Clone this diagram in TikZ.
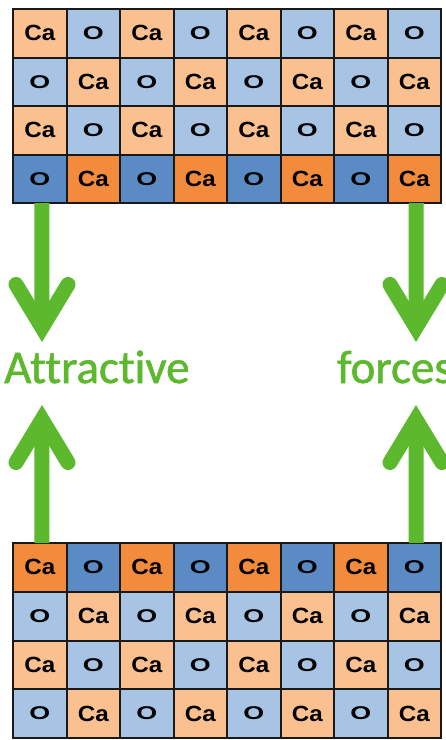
\documentclass[tikz,border=0pt]{standalone}
\usepackage{graphicx}
\usepackage{fontspec}
\setmainfont{Liberation Sans}
\newfontfamily\greenfont{Carlito}[Ligatures=NoCommon, FakeBold=1.2]
\definecolor{colLO}{HTML}{FAC090}
\definecolor{colLB}{HTML}{A7C4E4}
\definecolor{colDO}{HTML}{F28C3C}
\definecolor{colDB}{HTML}{5B8BC5}
\definecolor{grn}{HTML}{5CB82C}
\newcommand{\calabel}{\scalebox{1.1}[1]{Ca}}
\newcommand{\olabel}{\scalebox{1.22}[0.84]{O}}
\begin{document}
\begin{tikzpicture}[x=1pt,y=-1pt,
  cell/.style={draw=black!90, line width=2pt, minimum width=53.5pt, minimum height=48.5pt, inner sep=0pt, outer sep=0pt, font=\bfseries\fontsize{22}{22}\selectfont},
  shaft/.style={draw=grn, line width=15pt},
  chev/.style={draw=grn, line width=15pt, line cap=round, line join=miter},
  word/.style={anchor=base west, inner sep=0pt, text=grn, font=\greenfont\fontsize{47}{47}\selectfont}]
\useasboundingbox (0,0) rectangle (446,740);
\clip (0,0) rectangle (446,740);
\fill[white] (0,0) rectangle (446,740);
% top grid
\foreach \r in {0,...,3}{
  \foreach \c in {0,...,7}{
    \pgfmathtruncatemacro\p{mod(\r+\c,2)}
    \ifnum\r=3 \def\caC{colDO}\def\oC{colDB}\else\def\caC{colLO}\def\oC{colLB}\fi
    \ifnum\p=0
      \node[cell, fill=\caC] (t\r\c) at ({13+26.75+53.5*\c},{9+24.25+48.5*\r}) {\calabel};
    \else
      \node[cell, fill=\oC] (t\r\c) at ({13+26.75+53.5*\c},{9+24.25+48.5*\r}) {\olabel};
    \fi
  }
}
% bottom grid
\foreach \r in {0,...,3}{
  \foreach \c in {0,...,7}{
    \pgfmathtruncatemacro\p{mod(\r+\c,2)}
    \ifnum\r=0 \def\caC{colDO}\def\oC{colDB}\else\def\caC{colLO}\def\oC{colLB}\fi
    \ifnum\p=0
      \node[cell, fill=\caC, minimum height=48.75pt] (b\r\c) at ({13+26.75+53.5*\c},{543+24.375+48.75*\r}) {\calabel};
    \else
      \node[cell, fill=\oC, minimum height=48.75pt] (b\r\c) at ({13+26.75+53.5*\c},{543+24.375+48.75*\r}) {\olabel};
    \fi
  }
}
% labels
\node[word] (attr) at (4,383) {Attractive};
\node[word] (forc) at (337,383) {forces};
% arrow vertices
\coordinate (vTL) at (42,327.5);
\coordinate (vTR) at (416,327.5);
\coordinate (vBL) at (42,419.5);
\coordinate (vBR) at (416,419.5);
% top arrows
\draw[shaft] ([xshift=2pt]t30.south) -- (vTL);
\draw[chev] (vTL) ++(-26,-43) -- (vTL) -- ++(26,-43);
\draw[shaft] ([xshift=2pt]t37.south) -- (vTR);
\draw[chev] (vTR) ++(-26,-43) -- (vTR) -- ++(26,-43);
% bottom arrows
\draw[shaft] ([xshift=2pt]b00.north) -- (vBL);
\draw[chev] (vBL) ++(-26,43) -- (vBL) -- ++(26,43);
\draw[shaft] ([xshift=2pt]b07.north) -- (vBR);
\draw[chev] (vBR) ++(-26,43) -- (vBR) -- ++(26,43);
\end{tikzpicture}
\end{document}
